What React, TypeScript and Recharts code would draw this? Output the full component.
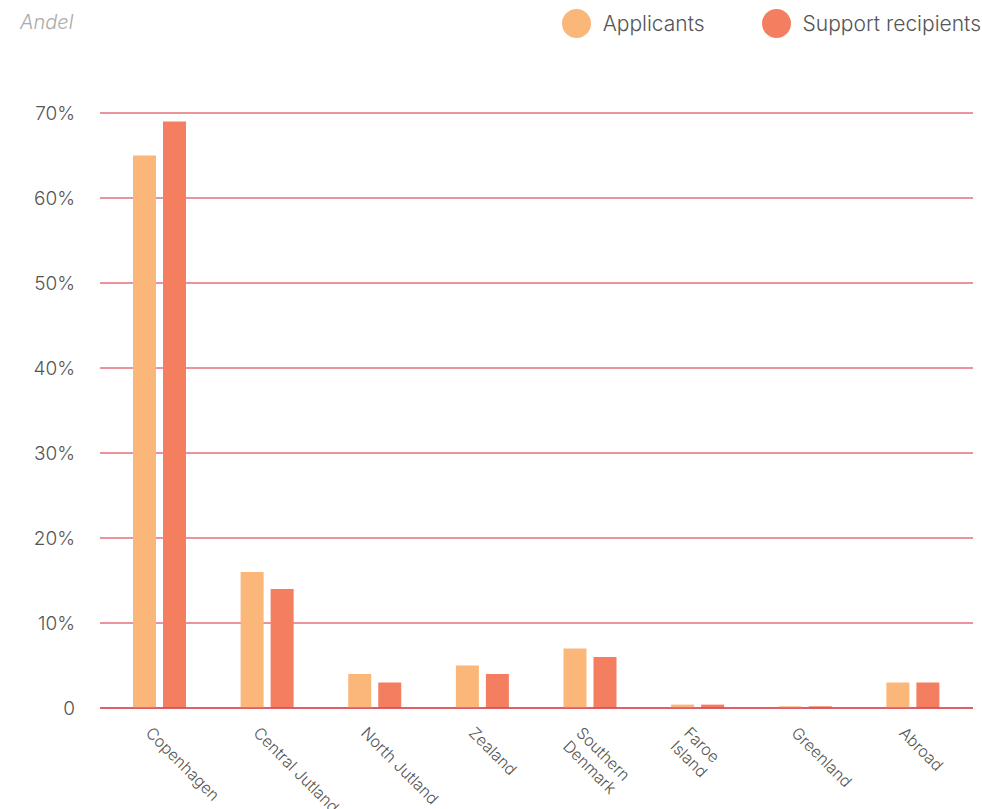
import React from 'react';
import { BarChart, Bar, XAxis, YAxis, CartesianGrid } from 'recharts';

document.body.style.margin = '0';

const regions = [
  'Copenhagen',
  'Central Jutland',
  'North Jutland',
  'Zealand',
  'Southern Denmark',
  'Faroe Island',
  'Greenland',
  'Abroad',
];
// labels that wrap onto two lines
const wrapped = ['Southern Denmark', 'Faroe Island'];

const applicants = [65, 16, 4, 5, 7, 0.4, 0.2, 3];
const supportRecipients = [69, 14, 3, 4, 6, 0.4, 0.2, 3];

const yTicks = [0, 10, 20, 30, 40, 50, 60, 70];

const series = [
  { key: 'applicants', name: 'Applicants', color: '#FBB679' },
  { key: 'support', name: 'Support recipients', color: '#F47F60' },
];

const data = regions.map((region, i) => ({
  region,
  applicants: applicants[i],
  support: supportRecipients[i],
}));

const FONT = 'Inter, "Open Sans", sans-serif';
const RED = '#D42A36';

function RegionTick({ x, y, payload }: any) {
  const label: string = payload.value;
  const lines = wrapped.includes(label) ? label.split(' ') : [label];
  return (
    <g transform={`translate(${x - 15},${y + 18}) rotate(45)`}>
      <text x={0} y={0} textAnchor="start" fill="#555" fontSize={16} fontFamily={FONT} fontWeight={300}>
        {lines.map((line, i) => (
          <tspan key={line} x={0} dy={i === 0 ? 0 : 19}>
            {line}
          </tspan>
        ))}
      </text>
    </g>
  );
}

export default function App() {
  return (
    <div style={{ position: 'relative', width: 982, height: 809, background: '#fff', fontFamily: FONT }}>
      <div
        style={{
          position: 'absolute',
          left: 20,
          top: 10,
          fontSize: 20,
          fontStyle: 'italic',
          color: '#aaa',
          fontWeight: 300,
        }}
      >
        Andel
      </div>
      <div style={{ position: 'absolute', right: 1, top: 9, display: 'flex', alignItems: 'center' }}>
        {series.map((s, i) => (
          <div key={s.key} style={{ display: 'flex', alignItems: 'center', marginLeft: i === 0 ? 0 : 57 }}>
            <span
              style={{
                display: 'inline-block',
                width: 29,
                height: 29,
                borderRadius: '50%',
                background: s.color,
                marginRight: 12,
              }}
            />
            <span style={{ fontSize: 21, color: '#555', fontWeight: 300 }}>{s.name}</span>
          </div>
        ))}
      </div>
      <BarChart
        width={982}
        height={809}
        data={data}
        margin={{ top: 113, right: 9, left: 20, bottom: 0 }}
        barSize={23}
        barGap={7}
      >
        <CartesianGrid vertical={false} stroke={RED} strokeWidth={1} />
        <XAxis
          dataKey="region"
          height={101}
          interval={0}
          axisLine={{ stroke: RED }}
          tickLine={false}
          padding={{ left: 6, right: 6 }}
          tick={<RegionTick />}
        />
        <YAxis
          width={80}
          domain={[0, 70]}
          ticks={yTicks}
          axisLine={false}
          tickLine={false}
          tickSize={0}
          tickMargin={25}
          tickFormatter={(v: number) => (v === 0 ? '0' : `${v}%`)}
          tick={{ fill: '#555', fontSize: 19, fontFamily: FONT, fontWeight: 300 }}
        />
        {series.map((s) => (
          <Bar key={s.key} dataKey={s.key} name={s.name} fill={s.color} isAnimationActive={false} />
        ))}
      </BarChart>
    </div>
  );
}
